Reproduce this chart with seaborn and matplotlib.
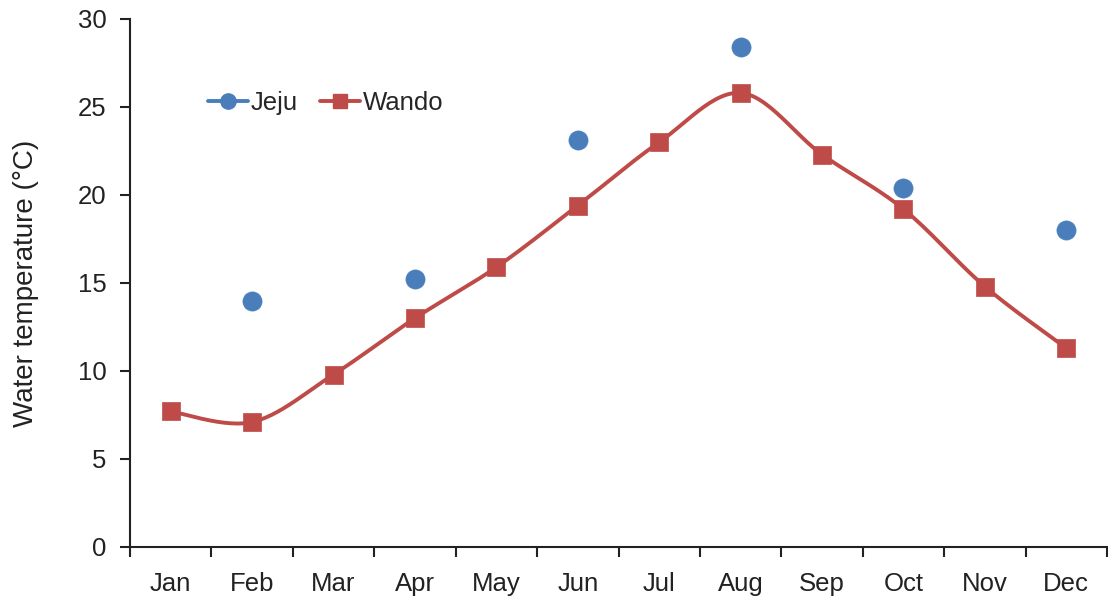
import numpy as np
import matplotlib
matplotlib.use("Agg")
import matplotlib.pyplot as plt
import seaborn as sns
from matplotlib.lines import Line2D

months = ["Jan", "Feb", "Mar", "Apr", "May", "Jun",
          "Jul", "Aug", "Sep", "Oct", "Nov", "Dec"]
jeju_months = ["Feb", "Apr", "Jun", "Aug", "Oct", "Dec"]
jeju_temp = [14.0, 15.2, 23.1, 28.4, 20.4, 18.0]
wando_temp = [7.7, 7.1, 9.8, 13.0, 15.9, 19.4, 23.0, 25.8, 22.3, 19.2, 14.8, 11.3]

BLUE = "#4a7ebb"
RED = "#be4b48"

sns.set_theme(style="ticks")
plt.rcParams["font.family"] = ["Liberation Sans", "DejaVu Sans"]

fig = plt.figure(figsize=(11.08, 6.02), dpi=100)
ax = fig.add_axes([130 / 1108, 55 / 602, 977 / 1108, 528 / 602])

xw = np.arange(len(months))
xj = np.array([months.index(m) for m in jeju_months])


def smooth_curve(x, y, n=30):
    """Cubic Bezier smoothing through every point (spreadsheet-style)."""
    x = np.asarray(x, float)
    y = np.asarray(y, float)
    px = np.concatenate([[x[0]], x, [x[-1]]])
    py = np.concatenate([[y[0]], y, [y[-1]]])
    t = np.linspace(0, 1, n)
    xs, ys = [], []
    for i in range(len(x) - 1):
        p0 = np.array([px[i], py[i]])
        p1 = np.array([px[i + 1], py[i + 1]])
        p2 = np.array([px[i + 2], py[i + 2]])
        p3 = np.array([px[i + 3], py[i + 3]])
        c1 = p1 + (p2 - p0) / 6.0
        c2 = p2 - (p3 - p1) / 6.0
        b = ((1 - t) ** 3)[:, None] * p1 + (3 * (1 - t) ** 2 * t)[:, None] * c1 \
            + (3 * (1 - t) * t ** 2)[:, None] * c2 + (t ** 3)[:, None] * p2
        xs.extend(b[:, 0])
        ys.extend(b[:, 1])
    return np.array(xs), np.array(ys)


sx, sy = smooth_curve(xw, wando_temp)
sns.lineplot(x=sx, y=sy, ax=ax, color=RED, lw=2.8, sort=False, estimator=None)
sns.scatterplot(x=xw, y=wando_temp, ax=ax, color=RED, marker="s", s=150,
                edgecolor=RED, linewidth=0.5, zorder=3)
sns.scatterplot(x=xj, y=jeju_temp, ax=ax, color=BLUE, marker="o", s=190,
                edgecolor=BLUE, linewidth=0.5, zorder=3)

ax.set_xlim(-0.5, 11.5)
ax.set_ylim(0, 30)
ax.set_yticks(np.arange(0, 31, 5))
ax.set_yticklabels([str(v) for v in range(0, 31, 5)], fontsize=18.5, color="#222222")
ax.set_xticks(np.arange(-0.5, 12, 1))
ax.set_xticklabels([])
ax.set_xticks(xw, minor=True)
ax.set_xticklabels(months, minor=True, fontsize=18.5, color="#222222")
ax.tick_params(axis="x", which="minor", length=0, pad=18)
ax.tick_params(axis="x", which="major", length=7, width=1.5, color="#222222", direction="out")
ax.tick_params(axis="y", length=7, width=1.5, color="#222222", direction="out", pad=10)
ax.set_ylabel("Water temperature (°C)", fontsize=20, color="#222222", labelpad=28)
ax.set_xlabel("")
sns.despine(ax=ax)
for side in ("left", "bottom"):
    ax.spines[side].set_linewidth(1.5)
    ax.spines[side].set_color("#222222")

handles = [
    Line2D([], [], color=BLUE, lw=2.8, marker="o", markersize=11),
    Line2D([], [], color=RED, lw=2.8, marker="s", markersize=10),
]
ax.legend(handles, ["Jeju", "Wando"], loc="center left", bbox_to_anchor=(0.056, 0.84),
          ncol=2, frameon=False, fontsize=18.5, handlelength=1.55, handletextpad=0.1,
          columnspacing=0.9)

fig.savefig("out.png", dpi=100, facecolor="white")
